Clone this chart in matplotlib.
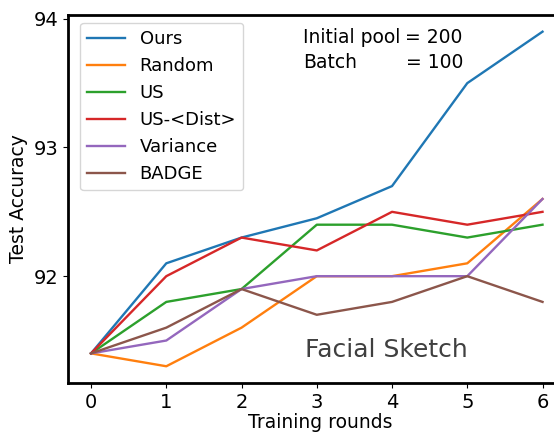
import matplotlib
matplotlib.use("Agg")
import matplotlib.pyplot as plt

rounds = [0, 1, 2, 3, 4, 5, 6]
ours = [91.4, 92.1, 92.3, 92.45, 92.7, 93.5, 93.9]
random_ = [91.4, 91.3, 91.6, 92.0, 92.0, 92.1, 92.6]
us = [91.4, 91.8, 91.9, 92.4, 92.4, 92.3, 92.4]
us_dist = [91.4, 92.0, 92.3, 92.2, 92.5, 92.4, 92.5]
variance = [91.4, 91.5, 91.9, 92.0, 92.0, 92.0, 92.6]
badge = [91.4, 91.6, 91.9, 91.7, 91.8, 92.0, 91.8]

series = [("Ours", ours), ("Random", random_), ("US", us),
          ("US-<Dist>", us_dist), ("Variance", variance), ("BADGE", badge)]

fig = plt.figure(figsize=(5.54, 4.33), dpi=100)
# axes run past the right edge (reference is cropped there)
ax = fig.add_axes([0.1236, 0.1155, 0.91, 0.85])

for name, vals in series:
    ax.plot(rounds, vals, label=name, linewidth=1.7)

ax.set_xlim(-0.3, 6.4)
ax.set_xticks(rounds)
ax.set_yticks([92, 93, 94])
ax.tick_params(labelsize=14)
ax.set_xlabel("Training rounds", fontsize=13.5, labelpad=1)
ax.set_ylabel("Test Accuracy", fontsize=13.5)
for s in ax.spines.values():
    s.set_linewidth(2)

ax.legend(loc="upper left", fontsize=13, bbox_to_anchor=(0.005, 1.003),
          handlelength=2.1)

# annotation for pool / batch size
ax.text(0.466, 0.940, "Initial pool", transform=ax.transAxes, fontsize=13.5, va="center")
ax.text(0.668, 0.940, "= 200", transform=ax.transAxes, fontsize=13.5, va="center")
ax.text(0.466, 0.872, "Batch", transform=ax.transAxes, fontsize=13.5, va="center")
ax.text(0.670, 0.872, "= 100", transform=ax.transAxes, fontsize=13.5, va="center")

ax.text(0.469, 0.09, "Facial Sketch", transform=ax.transAxes, fontsize=18,
        color="#404040", va="center")

fig.savefig("out.png", dpi=100)
